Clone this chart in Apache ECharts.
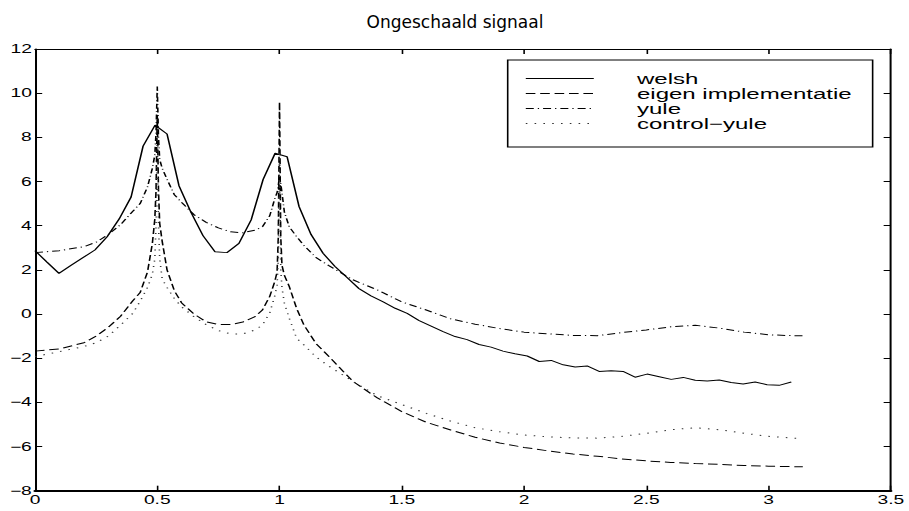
<!DOCTYPE html>
<html>
<head>
<meta charset="utf-8">
<script src="https://cdn.jsdelivr.net/npm/echarts@6/dist/echarts.min.js"></script>
<style>
html,body{margin:0;padding:0;width:909px;height:511px;overflow:hidden;background:#fff;}
#main{width:568px;height:511px;transform:scaleX(1.60035);transform-origin:0 0;}
</style>
</head>
<body>
<div id="main"></div>
<script>
// ---- data ----
var titleText = 'Ongeschaald signaal';
var seriesNames = ['welsh', 'eigen implementatie', 'yule', 'control\u2212yule'];
var xTicks = [0, 0.5, 1, 1.5, 2, 2.5, 3, 3.5];
var yTicks = [-8, -6, -4, -2, 0, 2, 4, 6, 8, 10, 12];

var welshX = [0,0.049,0.098,0.147,0.196,0.245,0.295,0.344,0.393,0.442,0.491,0.540,0.589,0.638,0.687,0.736,
  0.785,0.834,0.884,0.933,0.982,1.031,1.080,1.129,1.178,1.227,1.276,1.325,1.374,1.424,1.473,1.522,
  1.571,1.620,1.669,1.718,1.767,1.816,1.865,1.914,1.963,2.013,2.062,2.111,2.160,2.209,2.258,2.307,
  2.356,2.405,2.454,2.503,2.553,2.602,2.651,2.700,2.749,2.798,2.847,2.896,2.945,2.994,3.043,3.093];
var welshY = [2.87,2.35,1.84,2.2,2.55,2.9,3.5,4.3,5.3,7.6,8.55,8.15,5.8,4.6,3.55,2.82,
  2.78,3.2,4.26,6.1,7.28,7.12,4.86,3.6,2.75,2.15,1.65,1.15,0.82,0.55,0.26,0.03,
  -0.3,-0.55,-0.8,-1.02,-1.16,-1.38,-1.5,-1.68,-1.8,-1.9,-2.15,-2.1,-2.3,-2.4,-2.35,-2.6,
  -2.57,-2.6,-2.86,-2.72,-2.84,-2.96,-2.87,-3.0,-3.03,-2.99,-3.1,-3.17,-3.08,-3.2,-3.23,-3.08];

var smoothX = [0,0.1,0.2,0.25,0.3,0.35,0.4,0.43,0.46,0.48,
  0.49,0.495,0.5,0.505,0.51,0.52,0.54,0.57,0.6,0.65,
  0.7,0.75,0.8,0.85,0.9,0.93,0.96,0.98,0.99,0.995,
  1.0,1.005,1.01,1.02,1.04,1.07,1.1,1.15,1.2,1.3,
  1.4,1.5,1.6,1.7,1.8,1.9,2.0,2.1,2.2,2.3,
  2.4,2.5,2.6,2.7,2.8,2.9,3.0,3.1,3.14];
var eigenY = [-1.68,-1.58,-1.3,-1.0,-0.6,-0.1,0.6,0.97,1.9,3.2,
  4.3,5.6,9.0,5.6,4.1,3.3,2.0,1.05,0.5,0.0,
  -0.35,-0.47,-0.48,-0.36,-0.12,0.18,0.8,1.45,1.9,3.5,
  9.6,3.5,2.2,1.75,1.24,0.25,-0.5,-1.35,-1.9,-3.05,
  -3.8,-4.42,-4.9,-5.25,-5.58,-5.84,-6.04,-6.2,-6.34,-6.44,
  -6.56,-6.65,-6.72,-6.77,-6.81,-6.86,-6.89,-6.91,-6.92];
var yuleY = [2.78,2.87,3.05,3.25,3.6,4.05,4.65,5.0,5.75,6.6,
  7.2,8.2,10.3,8.0,7.0,6.6,6.1,5.4,5.05,4.5,
  4.15,3.9,3.72,3.68,3.8,3.95,4.45,5.2,5.5,5.8,
  6.3,5.9,5.5,4.6,3.95,3.5,3.1,2.55,2.2,1.55,
  1.09,0.55,0.18,-0.22,-0.46,-0.66,-0.82,-0.9,-0.97,-0.98,
  -0.84,-0.72,-0.58,-0.51,-0.64,-0.82,-0.94,-0.98,-0.98];
var controlY = [-1.93,-1.7,-1.47,-1.3,-1.0,-0.5,0.03,0.58,1.2,1.8,
  2.5,4.0,8.0,4.0,2.5,1.6,1.2,0.7,0.32,-0.12,
  -0.48,-0.75,-0.9,-0.9,-0.72,-0.5,0.05,0.8,1.3,2.5,
  7.5,2.0,1.2,0.48,-0.2,-1.1,-1.4,-1.95,-2.35,-3.05,
  -3.7,-4.1,-4.5,-4.85,-5.15,-5.33,-5.48,-5.56,-5.61,-5.62,
  -5.54,-5.4,-5.24,-5.15,-5.24,-5.4,-5.54,-5.62,-5.63];

// ---- chart ----
var S = 909 / 568;
function zip(xs, ys){ return xs.map(function(x,i){ return [x, ys[i]]; }); }
function fmt(v){ return String(v).replace('-', '\u2212'); }
var labelFont = {color:'#000', fontSize:12, fontFamily:'Liberation Sans, Arial, sans-serif'};

var chart = echarts.init(document.getElementById('main'), null, {renderer:'svg'});
var option = {
  animation: false,
  backgroundColor: '#fff',
  grid: {left: 35 / S, right: 16 / S, top: 49, bottom: 20.3, containLabel: false},
  graphic: [{
    type: 'text', x: 455 / S, y: 22, scaleX: 1 / S, silent: true,
    style: {text: titleText, fill: '#000', fontSize: 17, fontFamily: 'DejaVu Sans', align: 'center', verticalAlign: 'middle'}
  }],
  legend: {
    orient: 'vertical', left: 507.7 / S, top: 60,
    itemWidth: 68 / S, itemHeight: 15, itemGap: 0,
    padding: [11, 13, 16, 10.8], borderColor: '#000', borderWidth: 1,
    backgroundColor: '#fff', selectedMode: false,
    itemStyle: {opacity: 0},
    lineStyle: {width: 1},
    textStyle: {color:'#000', fontSize:15, fontFamily:'Liberation Sans, Arial, sans-serif', padding:[0,0,0,22], lineHeight:15},
    data: seriesNames
  },
  xAxis: [{
    type:'value', min:xTicks[0], max:xTicks[xTicks.length-1], interval:0.5, position:'bottom',
    axisLine:{show:true, onZero:false, lineStyle:{color:'#000', width:2}},
    axisTick:{show:true, inside:true, length:5, lineStyle:{color:'#000', width:1}},
    axisLabel:Object.assign({margin:3, formatter: fmt, showMinLabel:true, showMaxLabel:true}, labelFont),
    splitLine:{show:false}
  },{
    type:'value', min:xTicks[0], max:xTicks[xTicks.length-1], interval:0.5, position:'top',
    axisLine:{show:true, onZero:false, lineStyle:{color:'#000', width:1}},
    axisTick:{show:true, inside:true, length:5, lineStyle:{color:'#000', width:1}},
    axisLabel:{show:false}, splitLine:{show:false}
  }],
  yAxis: [{
    type:'value', min:yTicks[0], max:yTicks[yTicks.length-1], interval:2, position:'left',
    axisLine:{show:true, onZero:false, lineStyle:{color:'#000', width:1.25}},
    axisTick:{show:true, inside:true, length:4.5, lineStyle:{color:'#000', width:1}},
    axisLabel:Object.assign({margin:2, formatter: fmt, showMinLabel:true, showMaxLabel:true}, labelFont),
    splitLine:{show:false}
  },{
    type:'value', min:yTicks[0], max:yTicks[yTicks.length-1], interval:2, position:'right',
    axisLine:{show:true, onZero:false, lineStyle:{color:'#000', width:1.25}},
    axisTick:{show:true, inside:true, length:4.5, lineStyle:{color:'#000', width:1}},
    axisLabel:{show:false}, splitLine:{show:false}
  }],
  series: [
    {name:seriesNames[0], type:'line', symbol:'none', data:zip(welshX, welshY),
     lineStyle:{color:'#000', width:1, type:'solid'}, itemStyle:{color:'#000'}},
    {name:seriesNames[1], type:'line', symbol:'none', data:zip(smoothX, eigenY),
     lineStyle:{color:'#000', width:1, type:[6,3]}, itemStyle:{color:'#000'}},
    {name:seriesNames[2], type:'line', symbol:'none', data:zip(smoothX, yuleY),
     lineStyle:{color:'#000', width:1, type:[5,2.5,0.8,2.5]}, itemStyle:{color:'#000'}},
    {name:seriesNames[3], type:'line', symbol:'none', data:zip(smoothX, controlY),
     lineStyle:{color:'#333', width:1, type:[1,4.5]}, itemStyle:{color:'#333'}}
  ]
};
chart.setOption(option);
</script>
</body>
</html>
